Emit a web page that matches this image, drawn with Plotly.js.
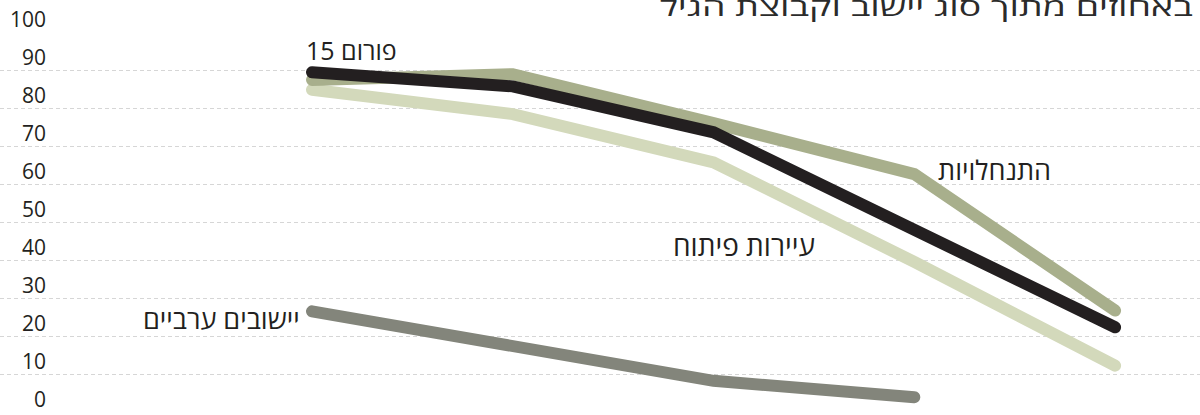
<!DOCTYPE html>
<html><head><meta charset="utf-8">
<script src="https://cdn.plot.ly/plotly-3.0.1.min.js"></script>
<style>
html,body{margin:0;padding:0;background:#fff;}
#chart{width:1200px;height:415px;}
.scatterlayer .js-line{stroke-linecap:round;}
.gtitle{transform-box:fill-box;transform-origin:100% 50%;transform:scaleX(1.5);}
</style></head><body><div id="chart"></div>
<script>
// Data (age groups on x axis; their labels are not shown in the chart)
const categories = ['g1', 'g2', 'g3', 'g4', 'g5'];
const arabName = 'יישובים ערביים';
const devName = 'עיירות פיתוח';
const setName = 'התנחלויות';
const forumName = 'פורום 15';
const arab = [26.5, 17.4, 8.2, 3.9, null];
const devTowns = [84.8, 78.4, 65.7, 39.5, 12.2];
const settlements = [87.4, 88.9, 76.0, 62.6, 26.7];
const forum15 = [89.4, 85.7, 73.6, 48.0, 22.3];
const yTicks = [0, 10, 20, 30, 40, 50, 60, 70, 80, 90, 100];
const yTickLabels = ['0', '10', '20', '30', '40', '50', '60', '70', '80', '90', '100'];
const chartTitle = 'באחוזים מתוך סוג יישוב וקבוצת הגיל';

const FONT = 'Open Sans, DejaVu Sans, sans-serif';
function line(name, y, color) {
  return {type: 'scatter', mode: 'lines', name: name, x: categories, y: y,
    line: {color: color, width: 12}, hoverinfo: 'skip', connectgaps: false};
}
const traces = [
  line(arabName, arab, '#83857b'),
  line(devName, devTowns, '#d3d9bb'),
  line(setName, settlements, '#a8af8c'),
  line(forumName, forum15, '#231f20')
];
function lab(size) {
  return {font: {family: FONT, size: size, color: '#231f20'}, showarrow: false,
    xref: 'x', yref: 'y', yanchor: 'middle', borderpad: 0};
}
const annotations = [
  Object.assign(lab(25), {text: forumName, x: categories[0], y: forum15[0], xanchor: 'left', xshift: -7, yshift: 22}),
  Object.assign(lab(27), {text: setName, x: categories[3], y: settlements[3], xanchor: 'left', xshift: 23, yshift: 5}),
  Object.assign(lab(28), {text: devName, x: categories[3], y: devTowns[3], xanchor: 'right', xshift: -98, yshift: 17}),
  Object.assign(lab(27), {text: arabName, x: categories[0], y: arab[0], xanchor: 'right', xshift: -11, yshift: -7.5})
];
const layout = {
  width: 1200, height: 415,
  margin: {l: 0, r: 0, t: 32, b: 3, pad: 0},
  paper_bgcolor: '#fff', plot_bgcolor: '#fff',
  showlegend: false,
  font: {family: FONT, color: '#231f20'},
  title: {text: chartTitle, font: {family: FONT, size: 25, color: '#2b2b2b'},
    xref: 'container', yref: 'container', x: 0.994, xanchor: 'right', y: 0.983, yanchor: 'middle'},
  xaxis: {type: 'category', range: [-1.554, 4.423], showgrid: false, zeroline: false,
    showticklabels: false, ticks: '', showline: false, fixedrange: true},
  yaxis: {range: [0, 100], anchor: 'free', position: 0.04, side: 'left',
    tickvals: yTicks, ticktext: yTickLabels, ticks: '', showline: false, zeroline: false,
    showgrid: true, gridcolor: '#d6d6d6', gridwidth: 1, griddash: '4px,3px',
    ticklabelshift: -12, ticklabelstandoff: 2,
    tickfont: {family: FONT, size: 21, color: '#231f20'}, fixedrange: true},
  annotations: annotations
};
Plotly.newPlot('chart', traces, layout, {displayModeBar: false, staticPlot: true});
</script></body></html>
